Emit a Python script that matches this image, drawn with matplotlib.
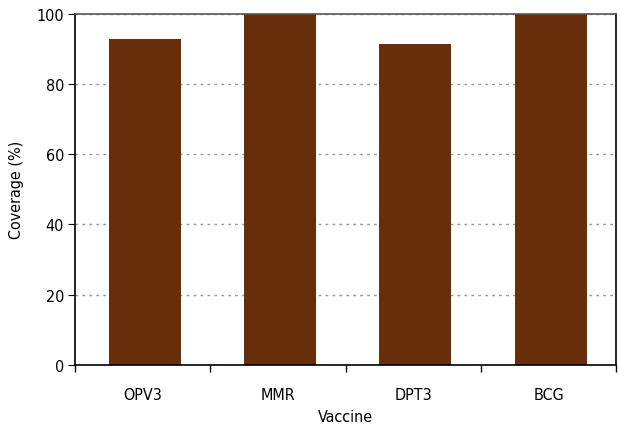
import matplotlib
matplotlib.use('Agg')
import matplotlib.pyplot as plt
import numpy as np

vaccines = ['OPV3', 'MMR', 'DPT3', 'BCG']
coverage = [92.9, 100, 91.4, 100]

plt.rcParams['font.family'] = ['Liberation Sans Narrow', 'DejaVu Sans']
plt.rcParams['font.stretch'] = 'condensed'

fig = plt.figure(figsize=(6.2, 4.35), dpi=100)
ax = fig.add_axes([0.121, 0.159, 0.873, 0.807])

x = np.arange(len(vaccines))
ax.bar(x + 0.015, coverage, width=0.53, color='#662e09', zorder=2)

ax.set_xlim(-0.5, len(vaccines) - 0.5)
ax.set_ylim(0, 100)
ax.set_yticks([0, 20, 40, 60, 80, 100])
ax.yaxis.grid(True, linestyle=(0, (2, 3)), color='#999999', linewidth=1, zorder=1)

ax.set_xticks(x)
ax.set_xticklabels(vaccines)
ax.tick_params(axis='x', which='major', length=0, pad=16, labelsize=11.5)
ax.set_xticks(np.arange(-0.5, len(vaccines)), minor=True)
ax.tick_params(axis='x', which='minor', length=5, direction='out', width=1)
ax.tick_params(axis='y', length=5, direction='out', labelsize=11.5, pad=3)

for s in ['left', 'bottom', 'right']:
    ax.spines[s].set_color('black')
    ax.spines[s].set_linewidth(1.2)
ax.spines['top'].set_color('#555555')
ax.spines['top'].set_linewidth(1.2)

ax.set_xlabel('Vaccine', fontsize=11.5, labelpad=5)
ax.set_ylabel('Coverage (%)', fontsize=11.5, labelpad=9)

fig.savefig('out.png', dpi=100)
